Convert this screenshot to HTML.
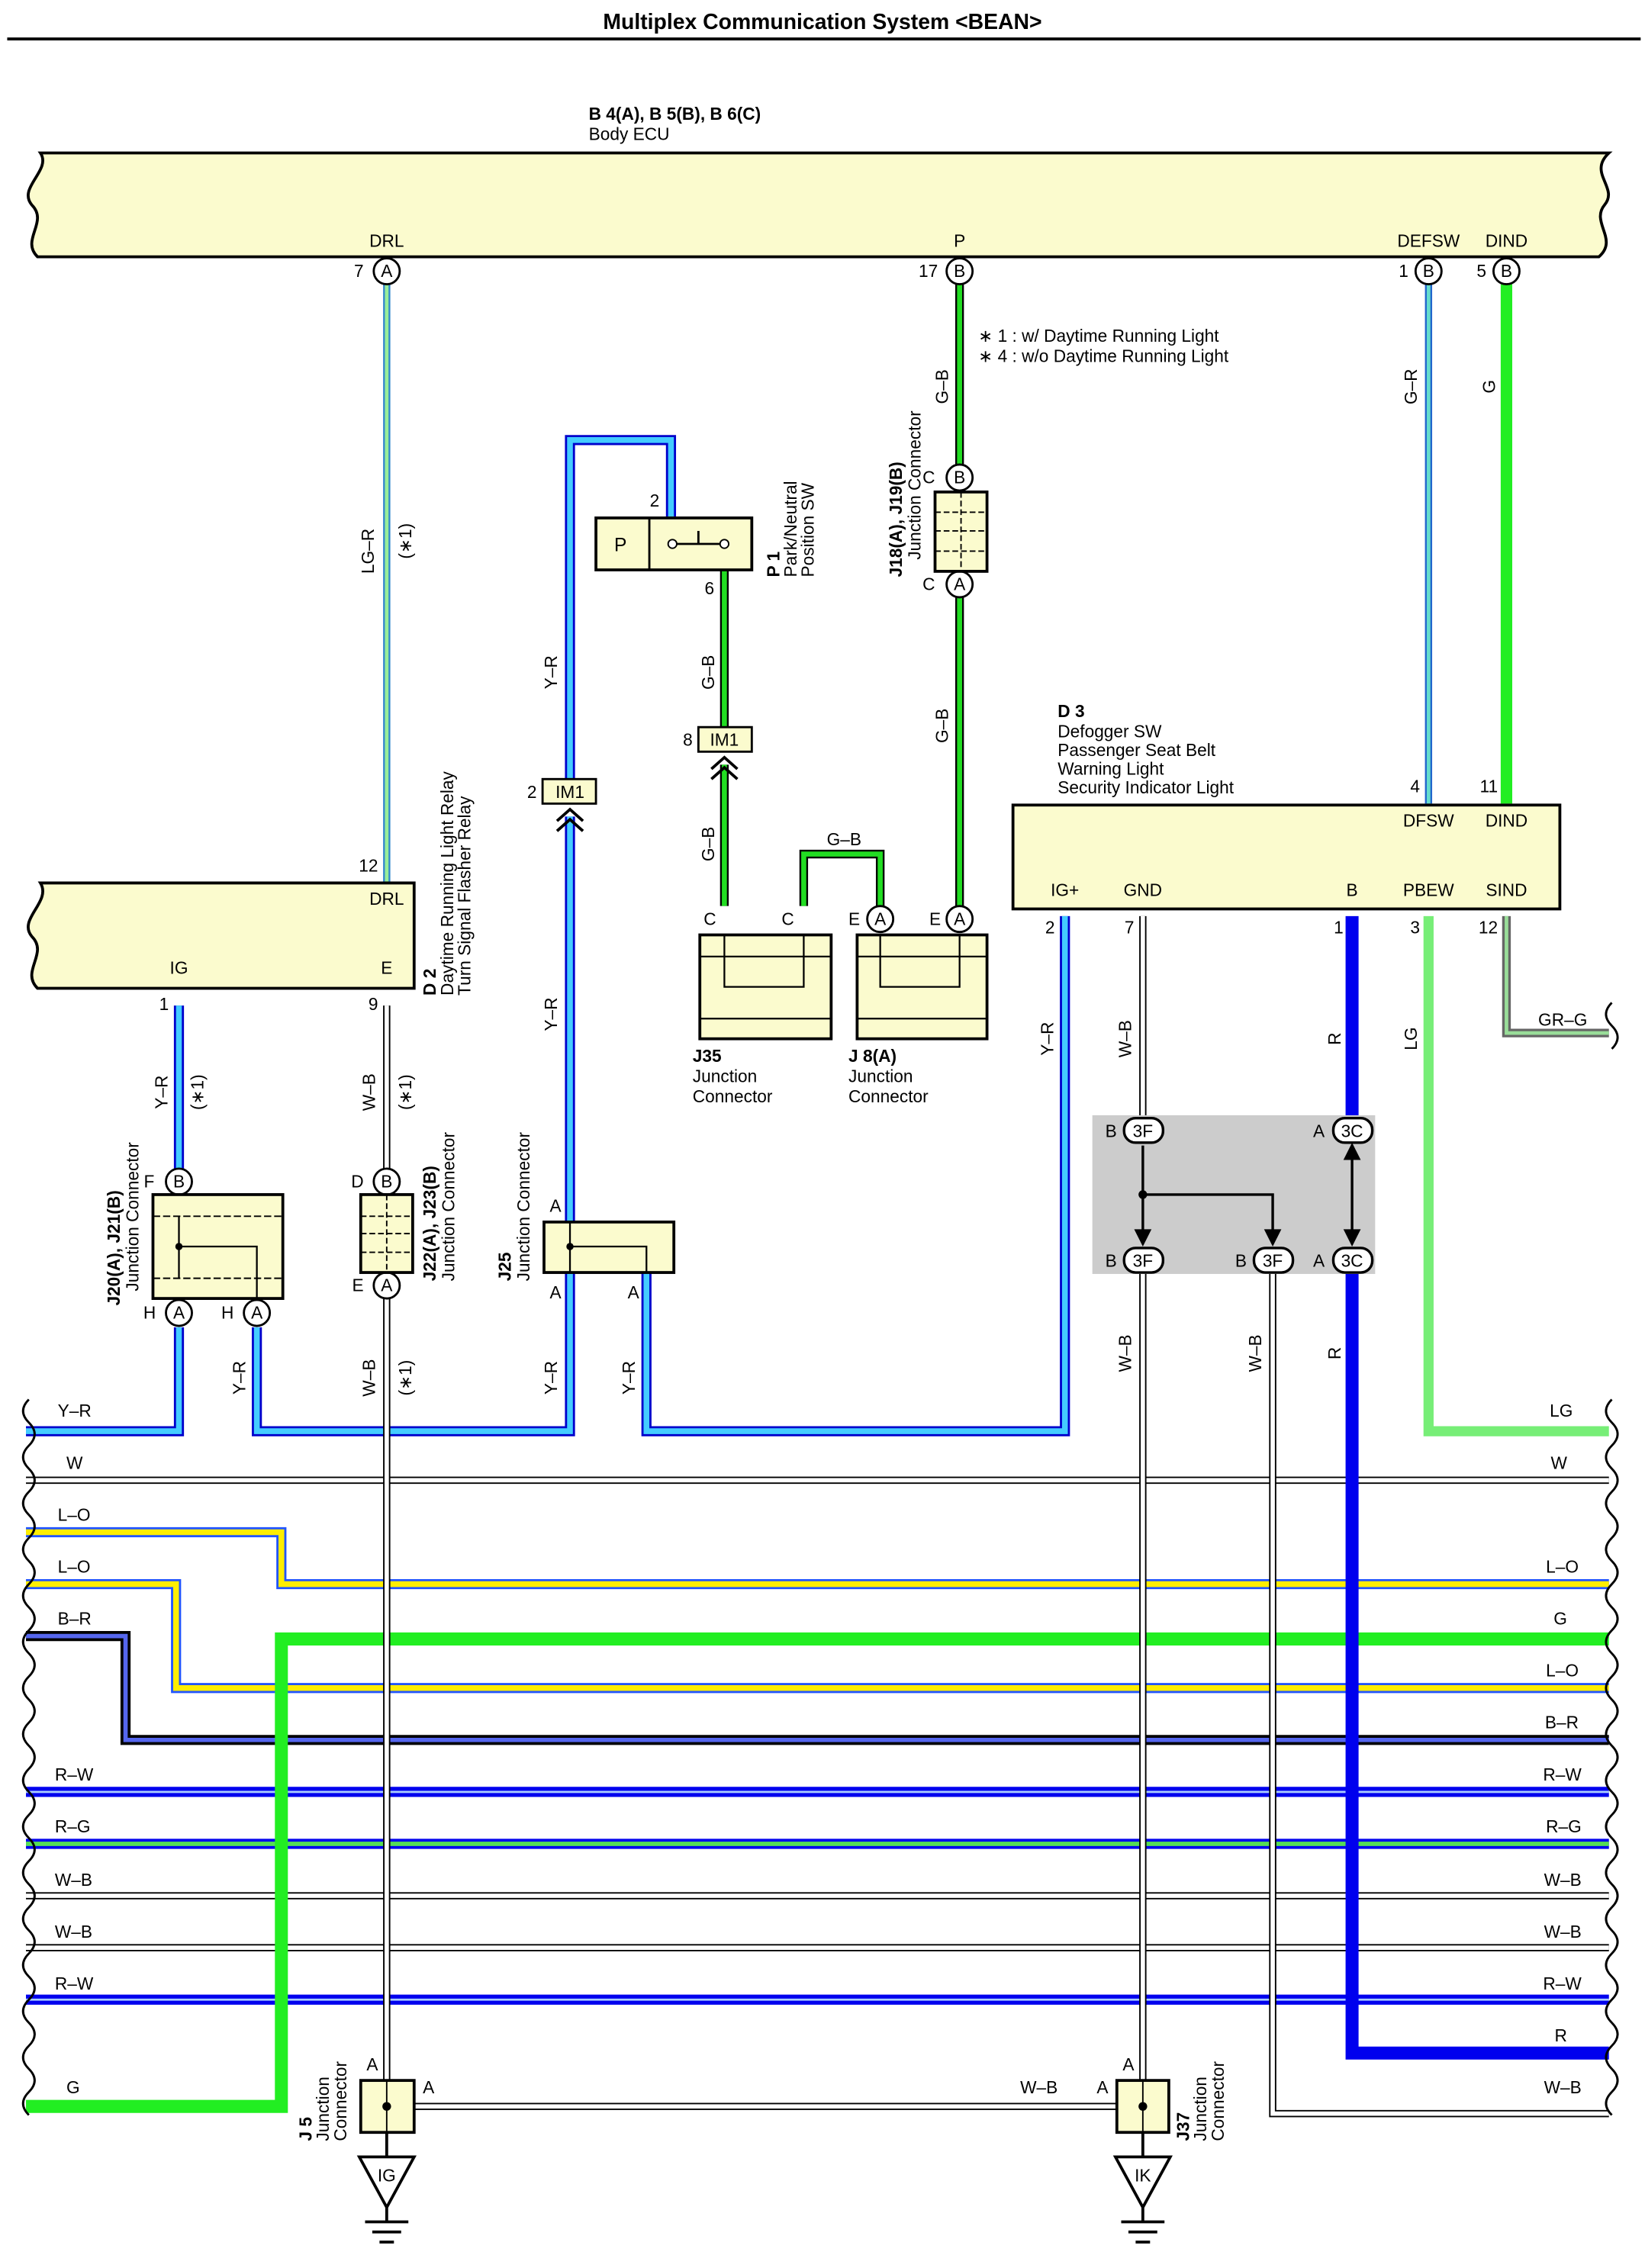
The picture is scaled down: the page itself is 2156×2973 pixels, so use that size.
<!DOCTYPE html>
<html><head><meta charset="utf-8">
<style>
html,body{margin:0;padding:0;background:#fff;}
svg{display:block;}
text{font-family:"Liberation Sans",Arial,sans-serif;font-size:12px;fill:#000;}
.b{font-weight:bold;}
.o{fill:none;stroke-linejoin:miter;stroke-linecap:butt;}
</style></head><body>
<svg width="2156" height="2973" viewBox="0 0 1140 1572" preserveAspectRatio="none" xmlns="http://www.w3.org/2000/svg">
<rect width="1140" height="1572" fill="#fff"/>
<text x="570" y="20" text-anchor="middle" class="b" style="font-size:15px">Multiplex Communication System &lt;BEAN&gt;</text>
<line x1="5" y1="27" x2="1137" y2="27" stroke="#000" stroke-width="2"/>

<text x="408" y="83" class="b">B 4(A), B 5(B), B 6(C)</text>
<text x="408" y="97">Body ECU</text>
<!-- Body ECU -->
<path d="M28 106 H1115 C1100 120,1122 130,1112 142 C1102 154,1122 166,1108 178 H26 C14 166,34 154,22 142 C12 130,36 118,28 106 Z" fill="#fbfbce" stroke="#000" stroke-width="2"/>
<text x="268" y="171" text-anchor="middle">DRL</text>
<text x="665" y="171" text-anchor="middle">P</text>
<text x="990" y="171" text-anchor="middle">DEFSW</text>
<text x="1044" y="171" text-anchor="middle">DIND</text>

<!-- WIRES -->
<g class="o">
<!-- LG-R -->
<path d="M268 197V612" stroke="#3388cc" stroke-width="5"/><path d="M268 197V612" stroke="#99ee99" stroke-width="2.5"/>
<!-- P G-B -->
<path d="M665 197V322M665 414V628" stroke="#000" stroke-width="6"/><path d="M665 197V322M665 414V628" stroke="#22dd22" stroke-width="3.5"/>
<!-- Y-R loop upper -->
<path d="M395 540V305H465V358M395 566V848" stroke="#0000cc" stroke-width="7"/><path d="M395 540V305H465V358M395 566V848" stroke="#44ccff" stroke-width="4"/>
<!-- P1 6 G-B -->
<path d="M502 395V504M502 530V628M557 628V592H610V628" stroke="#000" stroke-width="6"/><path d="M502 395V504M502 530V628M557 628V592H610V628" stroke="#22dd22" stroke-width="3.5"/>
<!-- DEFSW G-R -->
<path d="M990 197V557" stroke="#2266cc" stroke-width="5"/><path d="M990 197V557" stroke="#66ddcc" stroke-width="2.5"/>
<!-- DIND G -->
<path d="M1044 197V557" stroke="#22ee22" stroke-width="8"/>
<!-- D3 IG+ Y-R, D2 Y-R -->
<path d="M738 635V992H448V880M124 697V810M124 920V992H18M178 920V992H395V880" stroke="#0000cc" stroke-width="7"/><path d="M738 635V992H448V880M124 697V810M124 920V992H18M178 920V992H395V880" stroke="#44ccff" stroke-width="4"/>
<!-- LG -->
<path d="M990 635V992H1115" stroke="#77ee77" stroke-width="7"/>
<!-- GR-G -->
<path d="M1044 635V716H1115" stroke="#666" stroke-width="6"/><path d="M1044 635V716H1115" stroke="#99dd99" stroke-width="2.5"/>
<!-- buses -->
<path d="M18 1062H195V1098H1115M18 1098H122V1170H1115" stroke="#2255ff" stroke-width="7"/><path d="M18 1062H195V1098H1115M18 1098H122V1170H1115" stroke="#ffee00" stroke-width="4"/>
<path d="M18 1134H87V1206H1115" stroke="#000" stroke-width="7"/><path d="M18 1134H87V1206H1115" stroke="#5566ee" stroke-width="3"/>
<path d="M18 1242H1115M18 1386H1115" stroke="#0000ee" stroke-width="7"/><path d="M18 1242H1115M18 1386H1115" stroke="#aaccff" stroke-width="1.5"/>
<path d="M18 1278H1115" stroke="#0000ee" stroke-width="7"/><path d="M18 1278H1115" stroke="#55dd55" stroke-width="3"/>
<path d="M18 1026H1115M18 1314H1115M18 1350H1115" stroke="#000" stroke-width="5"/><path d="M18 1026H1115M18 1314H1115M18 1350H1115" stroke="#fff" stroke-width="3"/>
<path d="M18 1460H195V1136H1115" stroke="#22ee22" stroke-width="9"/>
<!-- W-B verticals -->
<path d="M268 697V810M268 900V1442M792 635V775M792 882V1442M882 882V1465H1115M287 1460H774" stroke="#000" stroke-width="5"/><path d="M268 697V810M268 900V1442M792 635V775M792 882V1442M882 882V1465H1115M287 1460H774" stroke="#fff" stroke-width="3"/>
<!-- R thick blue -->
<path d="M937 635V775M937 882V1423H1115" stroke="#0000ee" stroke-width="9"/>
</g>

<!-- wavy ends -->
<path d="M20 970 q-8 8 0 16 q8 8 0 16 q-8 8 0 16 q8 8 0 16 q-8 8 0 16 q8 8 0 16 q-8 8 0 16 q8 8 0 16 q-8 8 0 16 q8 8 0 16 q-8 8 0 16 q8 8 0 16 q-8 8 0 16 q8 8 0 16 q-8 8 0 16 q8 8 0 16 q-8 8 0 16 q8 8 0 16 q-8 8 0 16 q8 8 0 16 q-8 8 0 16 q8 8 0 16 q-8 8 0 16 q8 8 0 16 q-8 8 0 16 q8 8 0 16 q-8 8 0 16 q8 8 0 16 q-8 8 0 16 q8 8 0 16 q-8 8 0 16" fill="none" stroke="#000" stroke-width="1.5"/>
<path d="M1117 970 q-8 8 0 16 q8 8 0 16 q-8 8 0 16 q8 8 0 16 q-8 8 0 16 q8 8 0 16 q-8 8 0 16 q8 8 0 16 q-8 8 0 16 q8 8 0 16 q-8 8 0 16 q8 8 0 16 q-8 8 0 16 q8 8 0 16 q-8 8 0 16 q8 8 0 16 q-8 8 0 16 q8 8 0 16 q-8 8 0 16 q8 8 0 16 q-8 8 0 16 q8 8 0 16 q-8 8 0 16 q8 8 0 16 q-8 8 0 16 q8 8 0 16 q-8 8 0 16 q8 8 0 16 q-8 8 0 16 q8 8 0 16 q-8 8 0 16" fill="none" stroke="#000" stroke-width="1.5"/>
<path d="M1117 695 q-8 8 0 16 q8 8 0 16" fill="none" stroke="#000" stroke-width="1.5"/>

<!-- pins on ECU -->
<g fill="#fff" stroke="#000" stroke-width="1.5">
<circle cx="268" cy="188" r="9"/><circle cx="665" cy="188" r="9"/><circle cx="990" cy="188" r="9"/><circle cx="1044" cy="188" r="9"/>
<circle cx="665" cy="331" r="9"/><circle cx="665" cy="405" r="9"/>
<circle cx="610" cy="637" r="9"/><circle cx="665" cy="637" r="9"/>
<circle cx="124" cy="819" r="9"/><circle cx="124" cy="910" r="9"/><circle cx="178" cy="910" r="9"/>
<circle cx="268" cy="819" r="9"/><circle cx="268" cy="891" r="9"/>
</g>
<g text-anchor="middle" style="font-size:11px">
<text x="268" y="192">A</text><text x="665" y="192">B</text><text x="990" y="192">B</text><text x="1044" y="192">B</text>
<text x="665" y="335">B</text><text x="665" y="409">A</text>
<text x="610" y="641">A</text><text x="665" y="641">A</text>
<text x="124" y="823">B</text><text x="124" y="914">A</text><text x="178" y="914">A</text>
<text x="268" y="823">B</text><text x="268" y="895">A</text>
</g>
<text x="252" y="192" text-anchor="end">7</text><text x="650" y="192" text-anchor="end">17</text>
<text x="976" y="192" text-anchor="end">1</text><text x="1030" y="192" text-anchor="end">5</text>

<text x="678" y="237">∗ 1 : w/ Daytime Running Light</text>
<text x="678" y="251">∗ 4 : w/o Daytime Running Light</text>

<!-- J18 -->
<rect x="648" y="341" width="36" height="55" fill="#fbfbce" stroke="#000" stroke-width="2"/>
<path d="M648 355H684M648 368H684M648 382H684M666 341V396" stroke="#000" stroke-dasharray="4 2"/>
<text x="648" y="335" text-anchor="end">C</text><text x="648" y="409" text-anchor="end">C</text>

<!-- P1 -->
<rect x="413" y="359" width="108" height="36" fill="#fbfbce" stroke="#000" stroke-width="2"/>
<line x1="450" y1="359" x2="450" y2="395" stroke="#000" stroke-width="1.5"/>
<text x="430" y="382" text-anchor="middle" style="font-size:13px">P</text>
<circle cx="466" cy="377" r="3" fill="#fff" stroke="#000"/><circle cx="502" cy="377" r="3" fill="#fff" stroke="#000"/>
<line x1="469" y1="377" x2="499" y2="377" stroke="#000" stroke-width="1.5"/><line x1="484" y1="368" x2="484" y2="377" stroke="#000" stroke-width="1.5"/>
<text x="457" y="351" text-anchor="end">2</text><text x="495" y="412" text-anchor="end">6</text>

<!-- IM1 -->
<rect x="484" y="504" width="37" height="17" fill="#fbfbce" stroke="#000" stroke-width="1.5"/>
<text x="502" y="517" text-anchor="middle">IM1</text><text x="480" y="517" text-anchor="end">8</text>
<path d="M493 533L502 525L511 533M493 540L502 532L511 540" fill="none" stroke="#000" stroke-width="2"/>
<rect x="376" y="540" width="37" height="17" fill="#fbfbce" stroke="#000" stroke-width="1.5"/>
<text x="395" y="553" text-anchor="middle">IM1</text><text x="372" y="553" text-anchor="end">2</text>
<path d="M386 569L395 561L404 569M386 576L395 568L404 576" fill="none" stroke="#000" stroke-width="2"/>

<!-- D2 -->
<path d="M28 612H287V685H26C14 673,34 661,22 649C12 637,36 625,28 612Z" fill="#fbfbce" stroke="#000" stroke-width="2"/>
<text x="268" y="627" text-anchor="middle">DRL</text><text x="124" y="675" text-anchor="middle">IG</text><text x="268" y="675" text-anchor="middle">E</text>
<text x="262" y="604" text-anchor="end">12</text><text x="117" y="700" text-anchor="end">1</text><text x="262" y="700" text-anchor="end">9</text>

<!-- J35/J8 -->
<rect x="485" y="648" width="91" height="72" fill="#fbfbce" stroke="#000" stroke-width="2"/>
<path d="M485 663H576M485 706H576M502 648V684H557V648" fill="none" stroke="#000" stroke-width="1.2"/>
<rect x="594" y="648" width="90" height="72" fill="#fbfbce" stroke="#000" stroke-width="2"/>
<path d="M594 663H684M594 706H684M610 648V684H665V648" fill="none" stroke="#000" stroke-width="1.2"/>
<text x="492" y="641" text-anchor="middle">C</text><text x="546" y="641" text-anchor="middle">C</text>
<text x="592" y="641" text-anchor="middle">E</text><text x="648" y="641" text-anchor="middle">E</text>
<text x="480" y="736" class="b">J35</text><text x="480" y="750">Junction</text><text x="480" y="764">Connector</text>
<text x="588" y="736" class="b">J 8(A)</text><text x="588" y="750">Junction</text><text x="588" y="764">Connector</text>
<text x="585" y="586" text-anchor="middle">G–B</text>

<!-- D3 -->
<text x="733" y="497" class="b">D 3</text><text x="733" y="511">Defogger SW</text><text x="733" y="524">Passenger Seat Belt</text><text x="733" y="537">Warning Light</text><text x="733" y="550">Security Indicator Light</text>
<rect x="702" y="558" width="379" height="72" fill="#fbfbce" stroke="#000" stroke-width="2"/>
<g text-anchor="middle"><text x="990" y="573">DFSW</text><text x="1044" y="573">DIND</text>
<text x="738" y="621">IG+</text><text x="792" y="621">GND</text><text x="937" y="621">B</text><text x="990" y="621">PBEW</text><text x="1044" y="621">SIND</text></g>
<text x="984" y="549" text-anchor="end">4</text><text x="1038" y="549" text-anchor="end">11</text>
<text x="731" y="647" text-anchor="end">2</text><text x="786" y="647" text-anchor="end">7</text><text x="931" y="647" text-anchor="end">1</text><text x="984" y="647" text-anchor="end">3</text><text x="1038" y="647" text-anchor="end">12</text>

<!-- grey box -->
<rect x="757" y="773" width="196" height="110" fill="#cccccc"/>
<g fill="none" stroke="#000" stroke-width="1.8">
<path d="M792 794V862M792 828H882V862M937 794V862"/>
</g>
<g fill="#000"><path d="M786 852L792 864L798 852Z"/><path d="M876 852L882 864L888 852Z"/><path d="M931 852L937 864L943 852Z"/><path d="M931 804L937 792L943 804Z"/><circle cx="792" cy="828" r="3"/></g>
<g fill="#fff" stroke="#000" stroke-width="1.8">
<rect x="779" y="775" width="27" height="17" rx="8"/><rect x="779" y="865" width="27" height="17" rx="8"/><rect x="869" y="865" width="27" height="17" rx="8"/><rect x="924" y="775" width="27" height="17" rx="8"/><rect x="924" y="865" width="27" height="17" rx="8"/>
</g>
<g text-anchor="middle" style="font-size:11px"><text x="792" y="788">3F</text><text x="792" y="878">3F</text><text x="882" y="878">3F</text><text x="937" y="788">3C</text><text x="937" y="878">3C</text></g>
<text x="770" y="788" text-anchor="middle">B</text><text x="770" y="878" text-anchor="middle">B</text><text x="860" y="878" text-anchor="middle">B</text><text x="914" y="788" text-anchor="middle">A</text><text x="914" y="878" text-anchor="middle">A</text>

<!-- J20 -->
<rect x="106" y="828" width="90" height="72" fill="#fbfbce" stroke="#000" stroke-width="2"/>
<path d="M106 843H196M106 886H196" stroke="#000" stroke-dasharray="5 2"/>
<path d="M124 843V886M124 864H178V900" fill="none" stroke="#000" stroke-width="1.2"/><circle cx="124" cy="864" r="2.5"/>
<text x="107" y="823" text-anchor="end">F</text><text x="108" y="914" text-anchor="end">H</text><text x="162" y="914" text-anchor="end">H</text>
<!-- J22 -->
<rect x="250" y="828" width="36" height="54" fill="#fbfbce" stroke="#000" stroke-width="2"/>
<path d="M250 843H286M250 855H286M250 868H286M268 828V882" stroke="#000" stroke-dasharray="4 2"/>
<text x="252" y="823" text-anchor="end">D</text><text x="252" y="895" text-anchor="end">E</text>
<!-- J25 -->
<rect x="377" y="847" width="90" height="35" fill="#fbfbce" stroke="#000" stroke-width="2"/>
<path d="M395 847V864H448V882M395 864V882" fill="none" stroke="#000" stroke-width="1.2"/><circle cx="395" cy="864" r="2.5"/>
<text x="385" y="840" text-anchor="middle">A</text><text x="385" y="900" text-anchor="middle">A</text><text x="439" y="900" text-anchor="middle">A</text>

<!-- J5 / J37 -->
<rect x="250" y="1442" width="37" height="36" fill="#fbfbce" stroke="#000" stroke-width="2"/><circle cx="268" cy="1460" r="3"/>
<path d="M268 1442V1478" stroke="#000"/>
<rect x="774" y="1442" width="36" height="36" fill="#fbfbce" stroke="#000" stroke-width="2"/><circle cx="792" cy="1460" r="3"/>
<path d="M792 1442V1478" stroke="#000"/>
<text x="258" y="1435" text-anchor="middle">A</text><text x="297" y="1451" text-anchor="middle">A</text>
<text x="782" y="1435" text-anchor="middle">A</text><text x="764" y="1451" text-anchor="middle">A</text><text x="720" y="1451" text-anchor="middle">W–B</text>
<g fill="#fff" stroke="#000" stroke-width="2">
<path d="M268 1478V1495M249 1495H287L268 1530ZM268 1530V1540M253 1540H283M258 1547H278M263 1554H273"/>
<path d="M792 1478V1495M773 1495H811L792 1530ZM792 1530V1540M777 1540H807M782 1547H802M787 1554H797"/>
</g>
<text x="268" y="1512" text-anchor="middle">IG</text><text x="792" y="1512" text-anchor="middle">IK</text>

<!-- bus labels -->
<g><text x="40" y="982">Y–R</text><text x="46" y="1018">W</text><text x="40" y="1054">L–O</text><text x="40" y="1090">L–O</text><text x="40" y="1126">B–R</text><text x="38" y="1234">R–W</text><text x="38" y="1270">R–G</text><text x="38" y="1307">W–B</text><text x="38" y="1343">W–B</text><text x="38" y="1379">R–W</text><text x="46" y="1451">G</text></g>
<g text-anchor="end"><text x="1090" y="982">LG</text><text x="1086" y="1018">W</text><text x="1094" y="1090">L–O</text><text x="1086" y="1126">G</text><text x="1094" y="1162">L–O</text><text x="1094" y="1198">B–R</text><text x="1096" y="1234">R–W</text><text x="1096" y="1270">R–G</text><text x="1096" y="1307">W–B</text><text x="1096" y="1343">W–B</text><text x="1096" y="1379">R–W</text><text x="1086" y="1415">R</text><text x="1096" y="1451">W–B</text><text x="1100" y="711">GR–G</text></g>

<!-- rotated wire labels -->
<g>
<text transform="translate(259,382) rotate(-90)" text-anchor="middle">LG–R</text>
<text transform="translate(285,375) rotate(-90)" text-anchor="middle">(∗1)</text>
<text transform="translate(657,268) rotate(-90)" text-anchor="middle">G–B</text>
<text transform="translate(386,466) rotate(-90)" text-anchor="middle">Y–R</text>
<text transform="translate(495,466) rotate(-90)" text-anchor="middle">G–B</text>
<text transform="translate(657,503) rotate(-90)" text-anchor="middle">G–B</text>
<text transform="translate(495,585) rotate(-90)" text-anchor="middle">G–B</text>
<text transform="translate(982,268) rotate(-90)" text-anchor="middle">G–R</text>
<text transform="translate(1036,268) rotate(-90)" text-anchor="middle">G</text>
<text transform="translate(386,703) rotate(-90)" text-anchor="middle">Y–R</text>
<text transform="translate(730,720) rotate(-90)" text-anchor="middle">Y–R</text>
<text transform="translate(784,720) rotate(-90)" text-anchor="middle">W–B</text>
<text transform="translate(929,720) rotate(-90)" text-anchor="middle">R</text>
<text transform="translate(982,720) rotate(-90)" text-anchor="middle">LG</text>
<text transform="translate(116,757) rotate(-90)" text-anchor="middle">Y–R</text>
<text transform="translate(141,757) rotate(-90)" text-anchor="middle">(∗1)</text>
<text transform="translate(260,757) rotate(-90)" text-anchor="middle">W–B</text>
<text transform="translate(285,757) rotate(-90)" text-anchor="middle">(∗1)</text>
<text transform="translate(170,955) rotate(-90)" text-anchor="middle">Y–R</text>
<text transform="translate(260,955) rotate(-90)" text-anchor="middle">W–B</text>
<text transform="translate(285,955) rotate(-90)" text-anchor="middle">(∗1)</text>
<text transform="translate(386,955) rotate(-90)" text-anchor="middle">Y–R</text>
<text transform="translate(440,955) rotate(-90)" text-anchor="middle">Y–R</text>
<text transform="translate(784,938) rotate(-90)" text-anchor="middle">W–B</text>
<text transform="translate(874,938) rotate(-90)" text-anchor="middle">W–B</text>
<text transform="translate(929,938) rotate(-90)" text-anchor="middle">R</text>
</g>
<!-- rotated component labels -->
<g>
<text transform="translate(540,400) rotate(-90)" class="b">P 1</text>
<text transform="translate(552,400) rotate(-90)">Park/Neutral</text>
<text transform="translate(564,400) rotate(-90)">Position SW</text>
<text transform="translate(625,400) rotate(-90)" class="b">J18(A), J19(B)</text>
<text transform="translate(638,388) rotate(-90)">Junction Connector</text>
<text transform="translate(302,690) rotate(-90)" class="b">D 2</text>
<text transform="translate(314,690) rotate(-90)">Daytime Running Light Relay</text>
<text transform="translate(326,690) rotate(-90)">Turn Signal Flasher Relay</text>
<text transform="translate(83,905) rotate(-90)" class="b">J20(A), J21(B)</text>
<text transform="translate(96,895) rotate(-90)">Junction Connector</text>
<text transform="translate(302,888) rotate(-90)" class="b">J22(A), J23(B)</text>
<text transform="translate(315,888) rotate(-90)">Junction Connector</text>
<text transform="translate(354,888) rotate(-90)" class="b">J25</text>
<text transform="translate(367,888) rotate(-90)">Junction Connector</text>
<text transform="translate(216,1484) rotate(-90)" class="b">J 5</text>
<text transform="translate(228,1484) rotate(-90)">Junction</text>
<text transform="translate(240,1484) rotate(-90)">Connector</text>
<text transform="translate(824,1484) rotate(-90)" class="b">J37</text>
<text transform="translate(836,1484) rotate(-90)">Junction</text>
<text transform="translate(848,1484) rotate(-90)">Connector</text>
</g>
</svg>
</body></html>
